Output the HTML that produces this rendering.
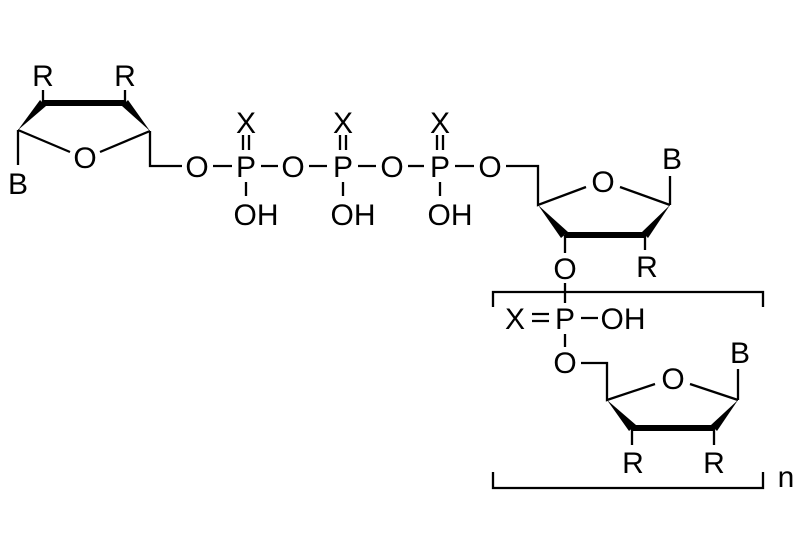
<!DOCTYPE html>
<html><head><style>html,body{margin:0;padding:0;background:#fff}</style></head>
<body>
<svg width="800" height="553" viewBox="0 0 800 553" xmlns="http://www.w3.org/2000/svg">
<g stroke="#000" stroke-width="2.3" fill="none">
<line x1="18" y1="130" x2="70" y2="152"/>
<line x1="100" y1="152" x2="150" y2="131"/>
<line x1="18" y1="130" x2="18" y2="165"/>
<line x1="43" y1="103" x2="43" y2="90"/>
<line x1="125" y1="103" x2="125" y2="90"/>
<polyline points="150,131 150,166 182,166"/>
<line x1="213" y1="166" x2="232" y2="166"/>
<line x1="261" y1="166" x2="278" y2="166"/>
<line x1="309" y1="166" x2="327" y2="166"/>
<line x1="358" y1="166" x2="376" y2="166"/>
<line x1="408" y1="166" x2="424" y2="166"/>
<line x1="455" y1="166" x2="474" y2="166"/>
<line x1="243" y1="135" x2="243" y2="150"/><line x1="249" y1="135" x2="249" y2="150"/>
<line x1="340" y1="135" x2="340" y2="150"/><line x1="346" y1="135" x2="346" y2="150"/>
<line x1="437" y1="135" x2="437" y2="150"/><line x1="443" y1="135" x2="443" y2="150"/>
<line x1="246" y1="182" x2="246" y2="196"/>
<line x1="343" y1="182" x2="343" y2="196"/>
<line x1="440" y1="182" x2="440" y2="196"/>
<polyline points="506,166 538,166 538,205 586,187"/>
<line x1="620" y1="187" x2="670" y2="205"/>
<line x1="670" y1="205" x2="670" y2="176"/>
<line x1="565" y1="235" x2="565" y2="253"/>
<line x1="645" y1="235" x2="645" y2="250"/>
<line x1="565" y1="283" x2="565" y2="303"/>
<polyline points="493,307 493,292 763,292 763,307"/>
<polyline points="493,472 493,488 763,488 763,472"/>
<line x1="532" y1="314" x2="549" y2="314"/><line x1="532" y1="321" x2="549" y2="321"/>
<line x1="581" y1="318" x2="598" y2="318"/>
<line x1="565" y1="334" x2="565" y2="347"/>
<polyline points="581,363 607,363 607,400 655,384"/>
<line x1="690" y1="384" x2="738" y2="400"/>
<line x1="738" y1="400" x2="738" y2="369"/>
<line x1="632" y1="428" x2="632" y2="445"/>
<line x1="714" y1="428" x2="714" y2="445"/>
</g>
<g fill="#000" stroke="none">
<polygon points="18,130 40,100 46,106"/>
<rect x="43" y="100" width="82" height="6"/>
<polygon points="150,131 122,106 128,100"/>
<polygon points="538,205 561,238 568,232"/>
<rect x="565" y="232" width="80" height="6"/>
<polygon points="670,205 642,232 648,238"/>
<polygon points="607,400 629,431 636,425"/>
<rect x="632" y="425" width="82" height="6"/>
<polygon points="738,400 711,425 717,431"/>
</g>
<g font-family="Liberation Sans, sans-serif" font-size="30" text-anchor="middle" fill="#000">
<text x="18" y="194">B</text>
<text x="43" y="86">R</text>
<text x="125" y="86">R</text>
<text x="85" y="168">O</text>
<text x="197" y="177">O</text>
<text x="246" y="177">P</text>
<text x="246" y="133">X</text>
<text x="256" y="225">OH</text>
<text x="293" y="177">O</text>
<text x="343" y="177">P</text>
<text x="343" y="133">X</text>
<text x="353" y="225">OH</text>
<text x="392" y="177">O</text>
<text x="440" y="177">P</text>
<text x="440" y="133">X</text>
<text x="450" y="225">OH</text>
<text x="490" y="177">O</text>
<text x="603" y="192">O</text>
<text x="672" y="169">B</text>
<text x="647" y="277">R</text>
<text x="565" y="279">O</text>
<text x="515" y="329">X</text>
<text x="565" y="329">P</text>
<text x="623" y="329">OH</text>
<text x="565" y="373">O</text>
<text x="673" y="389">O</text>
<text x="740" y="363">B</text>
<text x="633" y="473">R</text>
<text x="714" y="473">R</text>
<text x="786" y="487">n</text>
</g>
</svg>
</body></html>
